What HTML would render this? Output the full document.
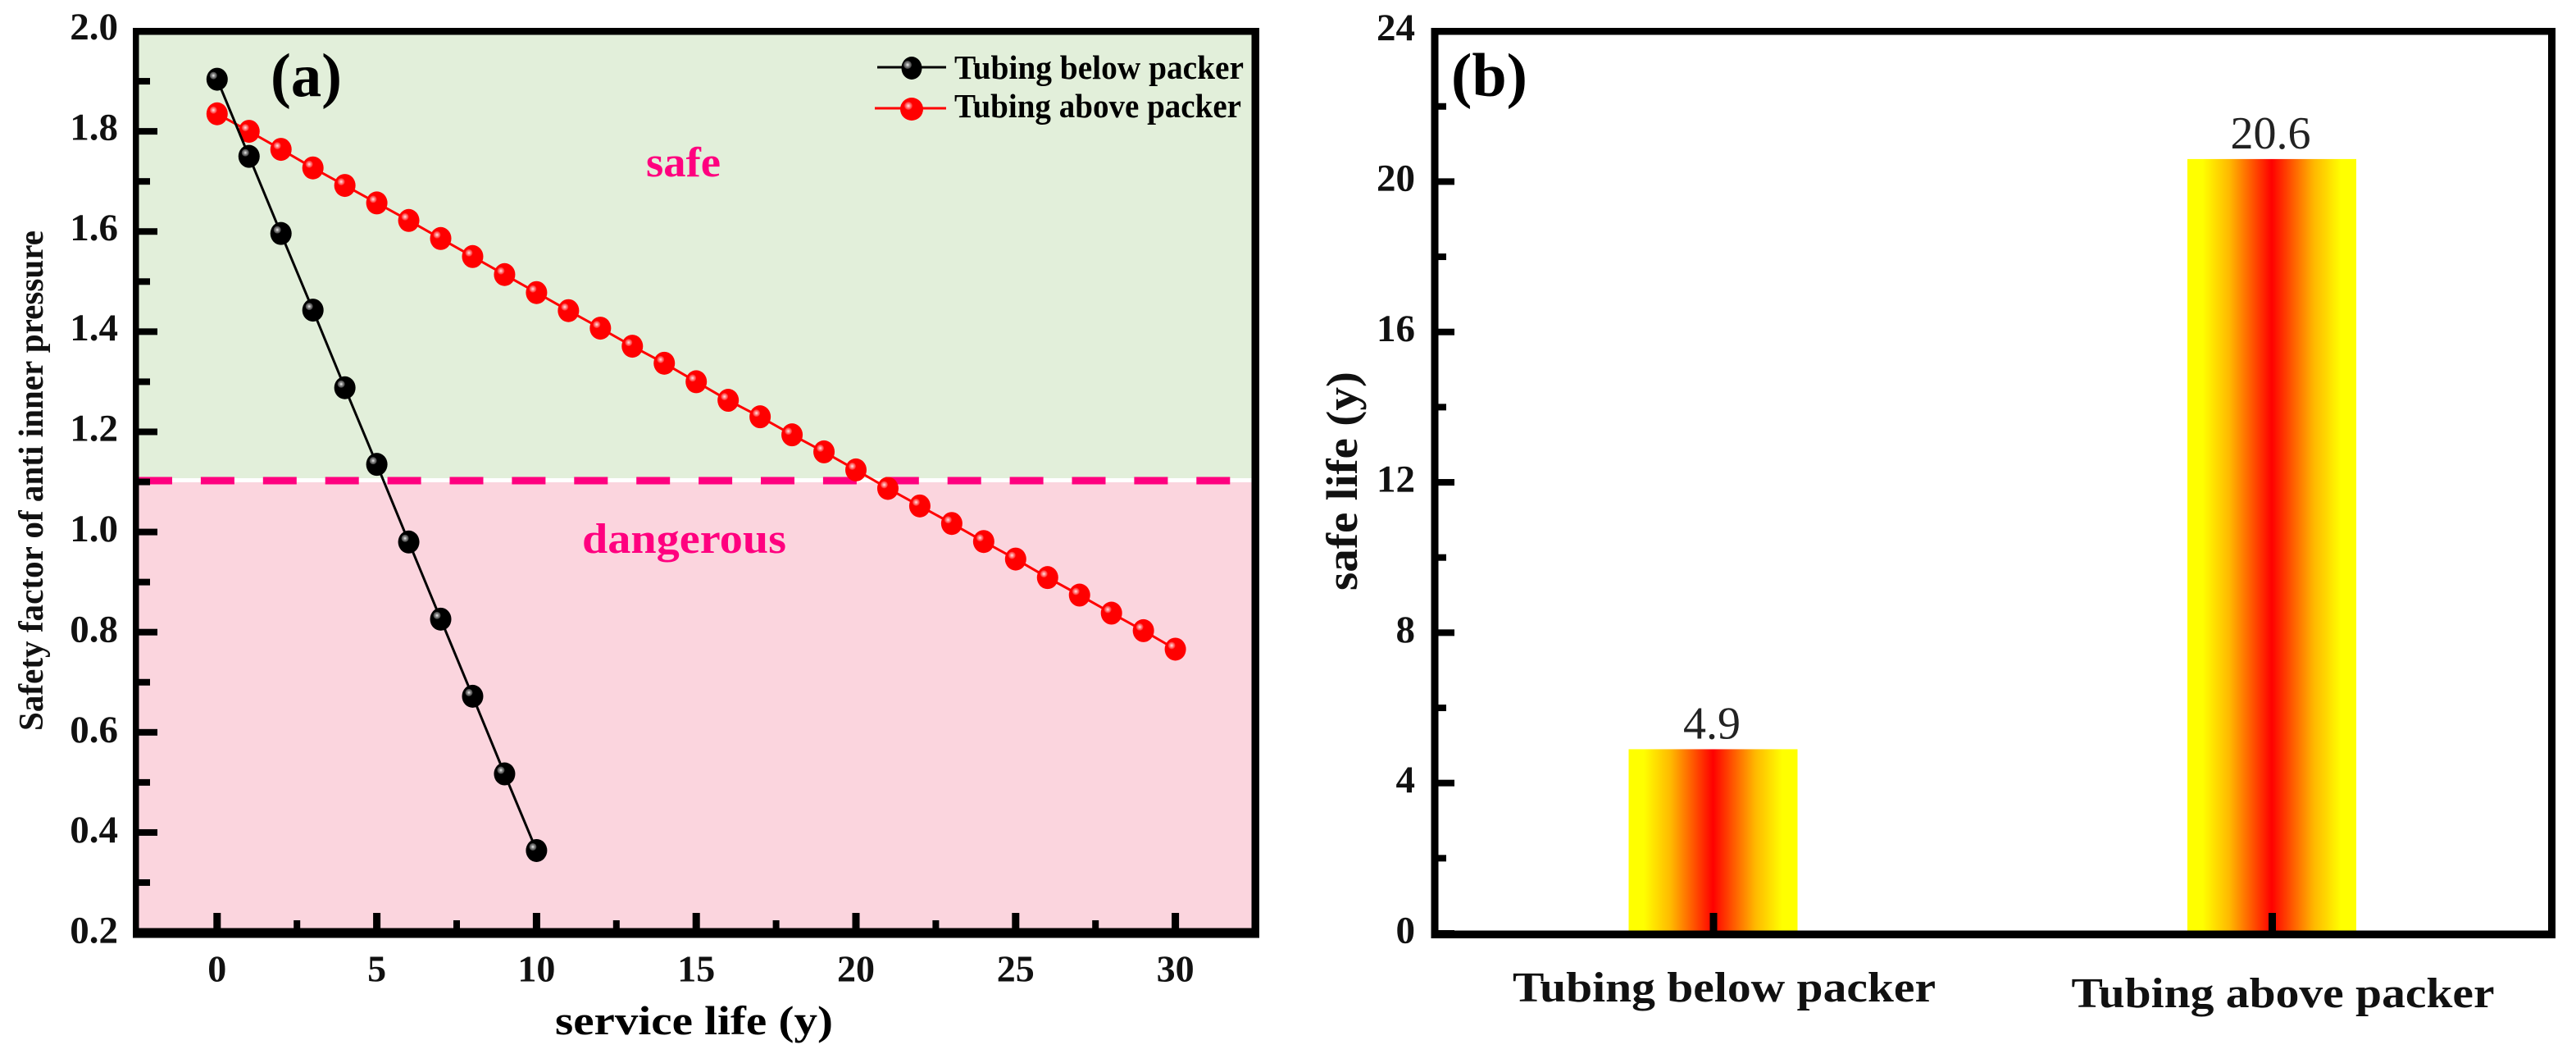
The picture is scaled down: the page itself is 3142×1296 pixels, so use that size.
<!DOCTYPE html>
<html lang="en">
<head>
<meta charset="utf-8">
<title>Safety factor and safe life of tubing</title>
<style>
html,body{margin:0;padding:0;background:#fff;}
svg{display:block;}
text{font-family:"Liberation Serif",serif;}
</style>
</head>
<body>
<svg id="figure" xmlns="http://www.w3.org/2000/svg" width="3142" height="1296" viewBox="0 0 3142 1296">
  <defs>
    <radialGradient id="glossBlack" cx="0.5" cy="0.5" r="0.5">
      <stop offset="0" stop-color="#f2f2f2"/>
      <stop offset="0.45" stop-color="#8c8c8c"/>
      <stop offset="1" stop-color="#3a3a3a"/>
    </radialGradient>
    <radialGradient id="glossRed" cx="0.5" cy="0.5" r="0.5">
      <stop offset="0" stop-color="#ffe6e6"/>
      <stop offset="0.45" stop-color="#ff8a8a"/>
      <stop offset="1" stop-color="#ff2020"/>
    </radialGradient>
    <linearGradient id="barFill" x1="0" y1="0" x2="1" y2="0">
      <stop offset="0" stop-color="#ffff00"/>
      <stop offset="0.09" stop-color="#ffff00"/>
      <stop offset="0.25" stop-color="#ffb800"/>
      <stop offset="0.5" stop-color="#ff0000"/>
      <stop offset="0.75" stop-color="#ffb800"/>
      <stop offset="0.91" stop-color="#ffff00"/>
      <stop offset="1" stop-color="#ffff00"/>
    </linearGradient>
  </defs>

  <g id="panelA">
    <rect x="166" y="38" width="1365" height="546" fill="#e2efda"/>
    <rect x="166" y="587" width="1365" height="548" fill="#fbd5de"/>
    <rect x="169" y="583" width="1358" height="5" fill="#ffffff"/>
    <line id="threshold" x1="169" x2="1527" stroke="#ff007f" stroke-width="9" stroke-dasharray="41 34.9"/>
    <g id="seriesA"></g>
    <g id="ticksA"></g>
    <rect x="162" y="34" width="1374" height="8.5" fill="#000"/>
    <rect x="162" y="34" width="7.5" height="1109" fill="#000"/>
    <rect x="1526.5" y="34" width="9.5" height="1109" fill="#000"/>
    <rect x="162" y="1131.5" width="1374" height="12" fill="#000"/>
    <text x="330" y="117" font-size="75" font-weight="bold" textLength="87" lengthAdjust="spacingAndGlyphs">(a)</text>
    <text x="788" y="215" font-size="52" font-weight="bold" fill="#ff007f" textLength="91" lengthAdjust="spacingAndGlyphs">safe</text>
    <text x="710" y="674" font-size="52" font-weight="bold" fill="#ff007f" textLength="249" lengthAdjust="spacingAndGlyphs">dangerous</text>
    <text x="677" y="1261" font-size="50" font-weight="bold" textLength="339" lengthAdjust="spacingAndGlyphs">service life (y)</text>
    <text transform="translate(52 891) rotate(-90)" font-size="42" font-weight="bold" fill="#111" textLength="610" lengthAdjust="spacingAndGlyphs">Safety factor of anti inner pressure</text>
    <g>
      <g>
        <line x1="1070" x2="1154" y1="82" y2="82" stroke="#000" stroke-width="3"/>
        <ellipse cx="1112" cy="83" rx="12.5" ry="14" fill="#000"/>
        <circle cx="1107" cy="79" r="5" fill="url(#glossBlack)"/>
        <text x="1164" y="96" font-size="41" font-weight="bold" textLength="353" lengthAdjust="spacingAndGlyphs">Tubing below packer</text>
      </g>
      <g>
        <line x1="1067" x2="1154" y1="132" y2="132" stroke="#ff0000" stroke-width="3"/>
        <ellipse cx="1112" cy="133" rx="14" ry="14" fill="#ff0000"/>
        <circle cx="1108" cy="129" r="5" fill="url(#glossRed)"/>
        <text x="1164" y="143" font-size="41" font-weight="bold" textLength="350" lengthAdjust="spacingAndGlyphs">Tubing above packer</text>
      </g>
    </g>
  </g>

  <g id="panelB">
    <g id="barsB"></g>
    <g id="ticksB"></g>
    <rect x="1745.5" y="34" width="1371.5" height="8.5" fill="#000"/>
    <rect x="1745.5" y="34" width="9" height="1110" fill="#000"/>
    <rect x="3108" y="34" width="9" height="1110" fill="#000"/>
    <rect x="1745.5" y="1134.5" width="1371.5" height="9.5" fill="#000"/>
    <text x="1770" y="117" font-size="75" font-weight="bold" textLength="93" lengthAdjust="spacingAndGlyphs">(b)</text>
    <text transform="translate(1655 720) rotate(-90)" font-size="54" font-weight="bold" fill="#111" textLength="267" lengthAdjust="spacingAndGlyphs">safe life (y)</text>
  </g>
</svg>

<script>
// ---- Panel (a) data ----
const yearsBelow = [0,1,2,3,4,5,6,7,8,9,10];
const safetyBelow = [1.904,1.750,1.596,1.443,1.288,1.135,0.980,0.826,0.672,0.517,0.364];
const yearsAbove = [0,1,2,3,4,5,6,7,8,9,10,11,12,13,14,15,16,17,18,19,20,21,22,23,24,25,26,27,28,29,30];
const safetyAbove = [1.835,1.800,1.764,1.727,1.692,1.657,1.622,1.586,1.550,1.514,1.478,1.442,1.407,1.371,1.337,1.300,1.263,1.230,1.194,1.160,1.124,1.087,1.052,1.017,0.981,0.946,0.909,0.874,0.838,0.803,0.766];
const safetyThreshold = 1.1;
const xTicksA = [0,5,10,15,20,25,30];
const xMinorTicksA = [2.5,7.5,12.5,17.5,22.5,27.5];
const yTickLabelsA = ["2.0","1.8","1.6","1.4","1.2","1.0","0.8","0.6","0.4","0.2"];
const yMinorTicksA = [1.9,1.7,1.5,1.3,1.1,0.9,0.7,0.5,0.3];

// ---- Panel (b) data ----
const categoriesB = ["Tubing below packer","Tubing above packer"];
const safeLife = [4.9,20.6];
const yTickLabelsB = ["24","20","16","12","8","4","0"];
const yMinorTicksB = [22,18,14,10,6,2];

const NS = "http://www.w3.org/2000/svg";
function mk(parent, tag, attrs, txt){
  const el = document.createElementNS(NS, tag);
  for (const k in attrs) el.setAttribute(k, attrs[k]);
  if (txt !== undefined) el.textContent = txt;
  parent.appendChild(el);
  return el;
}
function xA(v){ return 264.8 + v * 38.96; }
function yA(v){ return 38 + (2.0 - v) * 610.6; }
function xB(i){ return 2090 + i * 681.5; }
function yB(v){ return 1138 - v * 45.83; }

// threshold
const threshold = document.getElementById("threshold");
threshold.setAttribute("y1", yA(safetyThreshold) - 1.5);
threshold.setAttribute("y2", yA(safetyThreshold) - 1.5);

// series
const seriesA = document.getElementById("seriesA");
function drawSeries(xs, ys, color, gloss, name){
  const pts = xs.map(function(x, i){ return xA(x).toFixed(1) + "," + yA(ys[i]).toFixed(1); }).join(" ");
  const line = mk(seriesA, "polyline", {points: pts, fill: "none", stroke: color, "stroke-width": 3});
  
  
  xs.forEach(function(x, i){
    const cx = xA(x), cy = yA(ys[i]);
    const dot = mk(seriesA, "ellipse", {cx: cx, cy: cy, rx: 13, ry: 14, fill: color});
    
    
    const shine = mk(seriesA, "circle", {cx: cx - 4.5, cy: cy - 4.5, r: 4.5, fill: gloss});
    
    
  });
}
drawSeries(yearsAbove, safetyAbove, "#ff0000", "url(#glossRed)", "tubing-above-packer");
drawSeries(yearsBelow, safetyBelow, "#000000", "url(#glossBlack)", "tubing-below-packer");

// panel a ticks
const ticksA = document.getElementById("ticksA");
yTickLabelsA.forEach(function(label){
  const v = parseFloat(label);
  const t = mk(ticksA, "rect", {x: 166, y: yA(v) - 4, width: 26, height: 8, fill: "#000"});
  
  
  const l = mk(ticksA, "text", {x: 144, y: 48 + (2 - v) * 612, "text-anchor": "end", "font-size": 47, "font-weight": "bold", fill: "#111"}, label);
  
  
});
yMinorTicksA.forEach(function(v){
  const t = mk(ticksA, "rect", {x: 166, y: yA(v) - 4, width: 17, height: 8, fill: "#000"});
  
  
});
xTicksA.forEach(function(v){
  const t = mk(ticksA, "rect", {x: xA(v) - 4.5, y: 1113, width: 9, height: 20, fill: "#000"});
  
  
  const l = mk(ticksA, "text", {x: xA(v), y: 1196.5, "text-anchor": "middle", "font-size": 46, "font-weight": "bold", fill: "#111"}, String(v));
  
  
});
xMinorTicksA.forEach(function(v){
  const t = mk(ticksA, "rect", {x: xA(v) - 4, y: 1122, width: 8, height: 11, fill: "#000"});
  
  
});

// bars
const barsB = document.getElementById("barsB");
const barBaselineY = yB(0);
const catBaselines = [1221, 1228];
safeLife.forEach(function(v, i){
  const top = yB(v);
  const b = mk(barsB, "rect", {x: xB(i) - 103.5, y: top, width: 206, height: barBaselineY - top, fill: "url(#barFill)"});
  
  
  const val = mk(barsB, "text", {x: xB(i) - 2, y: top - 13, "text-anchor": "middle", "font-size": 56, fill: "#222"}, String(v));
  
  
  const cat = mk(barsB, "text", {x: xB(i) + 13, y: catBaselines[i], "text-anchor": "middle", "font-size": 52, "font-weight": "bold", fill: "#111", textLength: 516, lengthAdjust: "spacingAndGlyphs"}, categoriesB[i]);
  
  
  const tk = mk(barsB, "rect", {x: xB(i) - 4.5, y: 1113, width: 9, height: 23, fill: "#000"});
  
  
});

// panel b ticks
const ticksB = document.getElementById("ticksB");
yTickLabelsB.forEach(function(label){
  const v = parseFloat(label);
  const t = mk(ticksB, "rect", {x: 1750, y: yB(v) - 4, width: 24, height: 8, fill: "#000"});
  
  
  const l = mk(ticksB, "text", {x: 1726, y: 49 + (24 - v) * 45.86, "text-anchor": "end", "font-size": 47, "font-weight": "bold", fill: "#111"}, label);
  
  
});
yMinorTicksB.forEach(function(v){
  const t = mk(ticksB, "rect", {x: 1750, y: yB(v) - 4, width: 14, height: 8, fill: "#000"});
  
  
});
</script>
</body>
</html>
